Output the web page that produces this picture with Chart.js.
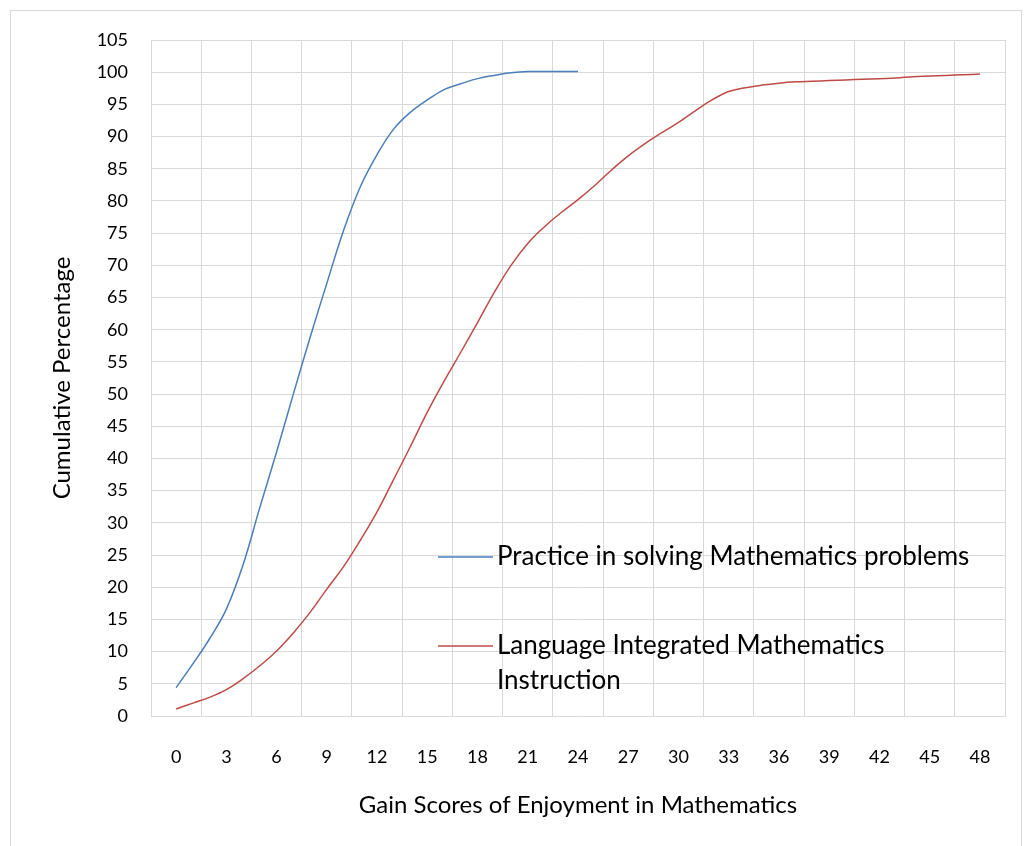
<!DOCTYPE html>
<html>
<head>
<meta charset="utf-8">
<script src="https://cdn.jsdelivr.net/npm/chart.js@4/dist/chart.umd.min.js"></script>
<style>
  body { margin: 0; background: #fff; }
  #wrap { position: relative; width: 1024px; height: 846px; overflow: hidden; }
  #frame { position: absolute; left: 10px; top: 10px; width: 1012px; height: 860px; border: 1px solid #d9d9d9; box-sizing: border-box; }
  canvas { position: absolute; left: 0; top: 0; }
</style>
</head>
<body>
<div id="wrap">
  <div id="frame"></div>
  <canvas id="chart" width="1024" height="846"></canvas>
</div>
<script>
// gain scores (x) and cumulative percentages (y)
const practiceX = [0,1,2,3,4,5,6,7,8,9,10,11,12,13,14,15,16,17,18,19,20,21,22,23,24];
const practiceY = [4.4,8.1,12.0,16.6,23.5,32.4,41.0,50.0,58.8,67.2,75.4,82.2,87.2,91.2,93.8,95.7,97.3,98.2,99.0,99.5,99.9,100.1,100.1,100.1,100.1];

const languageX = [0,1,2,3,4,5,6,7,8,9,10,11,12,13,14,15,16,17,18,19,20,21,22,23,24,
  25,26,27,28,29,30,31,32,33,34,35,36,37,38,39,40,41,42,43,44,45,46,47,48];
const languageY = [1.1,2.0,2.9,4.1,5.8,7.8,10.1,12.9,16.1,19.7,23.2,27.3,31.7,36.8,41.9,47.2,52.0,56.5,61.1,65.8,70.0,73.4,76.0,78.2,80.2,
  82.4,84.8,87.0,88.9,90.6,92.2,94.0,95.7,97.0,97.6,98.0,98.3,98.5,98.6,98.7,98.8,98.9,99.0,99.1,99.3,99.4,99.5,99.6,99.7];

const seriesNames = [
  ['Practice in solving Mathematics problems'],
  ['Language Integrated Mathematics', 'Instruction']
];
const xTickLabels = [0,3,6,9,12,15,18,21,24,27,30,33,36,39,42,45,48];
const yTicks = [0,5,10,15,20,25,30,35,40,45,50,55,60,65,70,75,80,85,90,95,100,105];

const FONT = 'Lato';
const GRID = '#d9d9d9';

// ticks at labels and gridlines halfway between them
const xTickValues = [xTickLabels[0] - 1.5];
xTickLabels.forEach(v => { xTickValues.push(v, v + 1.5); });

const toPoints = (xs, ys) => xs.map((x, i) => ({x: x, y: ys[i]}));

const insideLegend = {
  id: 'insideLegend',
  afterDatasetsDraw(chart) {
    const ctx = chart.ctx;
    const rows = [557, 646];
    ctx.save();
    ctx.font = '26px ' + FONT;
    ctx.textBaseline = 'middle';
    ctx.fillStyle = '#000';
    chart.data.datasets.forEach((ds, i) => {
      const y = rows[i];
      ctx.strokeStyle = ds.borderColor;
      ctx.lineWidth = 1.5;
      ctx.beginPath();
      ctx.moveTo(438, y);
      ctx.lineTo(493, y);
      ctx.stroke();
      seriesNames[i].forEach((t, j) => ctx.fillText(t, 497, y + j * 35));
    });
    ctx.restore();
  }
};

new Chart(document.getElementById('chart').getContext('2d'), {
  type: 'line',
  data: {
    datasets: [{
      label: seriesNames[0].join(' '),
      data: toPoints(practiceX, practiceY),
      borderColor: '#4a7ebb',
      borderWidth: 1.5,
      pointRadius: 0,
      tension: 0.4,
      fill: false
    }, {
      label: seriesNames[1].join(' '),
      data: toPoints(languageX, languageY),
      borderColor: '#be4b48',
      borderWidth: 1.5,
      pointRadius: 0,
      tension: 0.4,
      fill: false
    }]
  },
  options: {
    responsive: false,
    animation: false,
    layout: { padding: { left: 0, top: 40, right: 19, bottom: 0 } },
    plugins: {
      legend: { display: false },
      tooltip: { enabled: false }
    },
    scales: {
      x: {
        type: 'linear',
        min: -1.5,
        max: 49.5,
        afterBuildTicks: ax => { ax.ticks = xTickValues.map(v => ({value: v})); },
        afterFit: s => { s.height = 130; s.paddingLeft = 0; s.paddingRight = 0; },
        ticks: {
          autoSkip: false,
          maxRotation: 0,
          padding: 30,
          color: '#000',
          font: { family: FONT, size: 18 },
          callback: v => xTickLabels.includes(v) ? String(v) : ''
        },
        grid: {
          drawTicks: false,
          color: c => (c.tick && xTickLabels.includes(c.tick.value)) ? 'rgba(0,0,0,0)' : GRID,
          lineWidth: 1
        },
        border: { color: GRID, width: 1 },
        title: {
          display: true,
          text: 'Gain Scores of Enjoyment in Mathematics',
          color: '#000',
          font: { family: FONT, size: 24 },
          padding: { top: 0, bottom: 26 }
        }
      },
      y: {
        min: 0,
        max: 105,
        afterBuildTicks: ax => { ax.ticks = yTicks.map(v => ({value: v})); },
        afterFit: s => { s.width = 151; },
        ticks: {
          padding: 23,
          color: '#000',
          font: { family: FONT, size: 18 }
        },
        grid: { drawTicks: false, color: GRID, lineWidth: 1 },
        border: { color: GRID, width: 1 },
        title: {
          display: true,
          text: 'Cumulative Percentage',
          color: '#000',
          font: { family: FONT, size: 24 },
          padding: { top: 48, bottom: 0 }
        }
      }
    }
  },
  plugins: [insideLegend]
});
</script>
</body>
</html>
